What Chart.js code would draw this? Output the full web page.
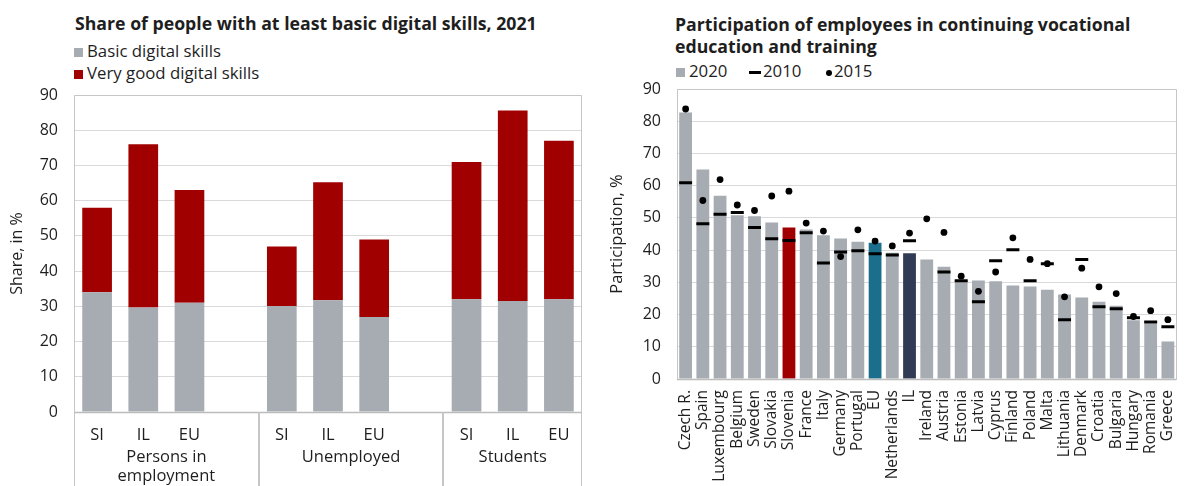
<!DOCTYPE html>
<html>
<head>
<meta charset="utf-8">
<title>Digital skills and continuing vocational training</title>
<script src="https://cdn.jsdelivr.net/npm/chart.js@4.4.1/dist/chart.umd.min.js"></script>
<style>
  html, body { margin: 0; padding: 0; background: #ffffff; }
  body { position: relative; width: 1186px; height: 486px; overflow: hidden;
         font-family: 'Open Sans', 'Noto Sans', sans-serif; color: #1e1e1e; }
  .title { position: absolute; font-weight: 700; font-size: 17.7px; line-height: 22px; white-space: nowrap; }
  .leg { position: absolute; font-size: 16.8px; line-height: 20px; white-space: nowrap; }
  .sw { position: absolute; }
  canvas { position: absolute; top: 0; }
</style>
</head>
<body>
  <div class="title" style="left:75px; top:11.5px;">Share of people with at least basic digital skills, 2021</div>
  <div class="sw" style="left:74px; top:48px; width:9px; height:9px; background:#a6acb2;"></div>
  <div class="leg" style="left:87px; top:41px;">Basic digital skills</div>
  <div class="sw" style="left:74px; top:70px; width:9px; height:9px; background:#a00000;"></div>
  <div class="leg" style="left:87px; top:63px;">Very good digital skills</div>

  <div class="title" style="left:675px; top:13px;">Participation of employees in continuing vocational<br>education and training</div>
  <div class="sw" style="left:676px; top:68px; width:9px; height:9px; background:#a6acb2;"></div>
  <div class="leg" style="left:689px; top:61px;">2020</div>
  <div class="sw" style="left:749px; top:71px; width:12px; height:3px; background:#000000;"></div>
  <div class="leg" style="left:763px; top:61px;">2010</div>
  <div class="sw" style="left:826px; top:70px; width:6px; height:6px; border-radius:50%; background:#000000;"></div>
  <div class="leg" style="left:834px; top:61px;">2015</div>

  <canvas id="skills" width="600" height="486" style="left:0;"></canvas>
  <canvas id="cvet" width="586" height="486" style="left:600px;"></canvas>

<script>
// ---- Digital skills, 2021 (share, %) ----
// Three groups of SI / IL / EU; an empty slot separates the groups.
const skillLabels = ['SI', 'IL', 'EU', '', 'SI', 'IL', 'EU', '', 'SI', 'IL', 'EU'];
const basicSkills = [34, 29.7, 31, null, 30, 31.7, 27, null, 32, 31.5, 32];
const veryGoodSkills = [24, 46.3, 32, null, 17, 33.5, 22, null, 39, 54.1, 45];
const skillGroups = [['Persons in', 'employment'], ['Unemployed'], ['Students']];

// ---- Participation of employees in CVET (%) ----
const countries = ['Czech R.', 'Spain', 'Luxembourg', 'Belgium', 'Sweden', 'Slovakia', 'Slovenia',
  'France', 'Italy', 'Germany', 'Portugal', 'EU', 'Netherlands', 'IL', 'Ireland', 'Austria',
  'Estonia', 'Latvia', 'Cyprus', 'Finland', 'Poland', 'Malta', 'Lithuania', 'Denmark',
  'Croatia', 'Bulgaria', 'Hungary', 'Romania', 'Greece'];
const cvet2020 = [82.7, 65.0, 56.9, 50.8, 50.5, 48.6, 47.0, 46.4, 44.6, 43.6, 42.6, 42.3, 39.2, 39.0,
  37.1, 34.8, 30.6, 30.6, 30.3, 29.0, 28.7, 27.7, 26.2, 25.3, 24.0, 22.7, 18.2, 17.2, 11.6];
const cvet2010 = [60.9, 48.2, 51.1, 51.7, 47.0, 43.5, 43.0, 45.4, 36.0, 39.4, 39.8, 38.9, 38.5, 42.9,
  null, 33.2, 30.5, 24.0, 36.7, 40.1, 30.5, 35.8, 18.4, 37.1, 22.4, 21.8, 19.0, 17.7, 16.2];
const cvet2015 = [83.8, 55.4, 61.9, 54.0, 52.3, 56.8, 58.3, 48.4, 45.9, 38.0, 46.3, 42.8, 41.3, 45.3,
  49.7, 45.5, 31.9, 27.2, 33.2, 43.8, 37.1, 35.8, 25.5, 34.4, 28.6, 26.5, 19.4, 21.2, 18.4];
const yTicks = { min: 0, max: 90, step: 10 };

// ---- styling ----
const GREY = '#a6acb2';
const RED = '#a00000';
const highlight = { 'Slovenia': '#a00000', 'EU': '#1b6f8c', 'IL': '#323b55' };
const GRID = '#d9d9d9';
const FRAME = '#c6c6c6';
const TEXT = '#1e1e1e';
const FONT = "'Open Sans', 'Noto Sans', sans-serif";

Chart.defaults.font.family = FONT;
Chart.defaults.color = TEXT;

// Pin the axis boxes to fixed sizes so the plot area sits where intended.
const fixWidth = (w) => (scale) => { scale.width = w; scale.paddingTop = 0; scale.paddingBottom = 0; };
const fixHeight = (h) => (scale) => { scale.height = h; scale.paddingLeft = 0; scale.paddingRight = 0; };

// Frame around the plot area plus the category axis line.
const framePlugin = {
  id: 'frame',
  afterDatasetsDraw(chart) {
    const { ctx, chartArea: a } = chart;
    const l = Math.round(a.left) + 0.5, r = Math.round(a.right) - 0.5;
    const t = Math.round(a.top) + 0.5, b = Math.round(a.bottom) + 0.5;
    ctx.save();
    ctx.strokeStyle = FRAME;
    ctx.lineWidth = 1;
    ctx.beginPath();
    ctx.moveTo(l, b); ctx.lineTo(l, t); ctx.lineTo(r, t); ctx.lineTo(r, b);
    ctx.stroke();
    ctx.lineWidth = 1.5;
    ctx.strokeStyle = '#bcbcbc';
    ctx.beginPath();
    ctx.moveTo(a.left, b); ctx.lineTo(a.right, b);
    ctx.stroke();
    ctx.restore();
  }
};

// Group separators and group captions under the SI / IL / EU ticks.
const groupAxisPlugin = {
  id: 'groupAxis',
  afterDraw(chart) {
    const { ctx, chartArea: a, scales: { x } } = chart;
    const half = (x.getPixelForValue(1) - x.getPixelForValue(0)) / 2;
    // Each group runs up to and including the empty slot that follows it.
    const spans = [];
    let start = 0;
    skillLabels.forEach((lab, i) => {
      if (lab === '' || i === skillLabels.length - 1) { spans.push([start, i]); start = i + 1; }
    });
    ctx.save();
    ctx.strokeStyle = FRAME;
    ctx.lineWidth = 1;
    const edges = new Set();
    spans.forEach(([s, e]) => {
      edges.add(Math.round(x.getPixelForValue(s) - half) + 0.5);
      edges.add(Math.round(x.getPixelForValue(e) + half) - 0.5);
    });
    ctx.beginPath();
    edges.forEach((px) => { ctx.moveTo(px, a.bottom); ctx.lineTo(px, chart.height); });
    ctx.stroke();
    ctx.fillStyle = TEXT;
    ctx.font = '16.5px ' + FONT;
    ctx.textAlign = 'center';
    ctx.textBaseline = 'alphabetic';
    spans.forEach(([s, e], g) => {
      const cx = (x.getPixelForValue(s) + x.getPixelForValue(e)) / 2;
      skillGroups[g].forEach((line, k) => ctx.fillText(line, cx, a.bottom + 50 + k * 19));
    });
    ctx.restore();
  }
};

new Chart(document.getElementById('skills'), {
  type: 'bar',
  data: {
    labels: skillLabels,
    datasets: [
      { label: 'Basic digital skills', data: basicSkills, backgroundColor: GREY, stack: 's' },
      { label: 'Very good digital skills', data: veryGoodSkills, backgroundColor: RED, stack: 's' }
    ]
  },
  options: {
    responsive: false,
    animation: false,
    devicePixelRatio: 1,
    layout: { padding: { top: 95, right: 18, bottom: 0, left: 0 } },
    plugins: { legend: { display: false }, tooltip: { enabled: false } },
    datasets: { bar: { barPercentage: 0.643, categoryPercentage: 1 } },
    scales: {
      x: {
        stacked: true,
        grid: { display: false },
        border: { display: false },
        ticks: { font: { size: 16.5 }, padding: 5, maxRotation: 0, autoSkip: false },
        afterFit: fixHeight(74)
      },
      y: {
        stacked: true,
        min: yTicks.min, max: yTicks.max,
        ticks: { stepSize: yTicks.step, font: { size: 16 }, padding: 16 },
        grid: { color: GRID, drawTicks: false },
        border: { display: false },
        title: { display: true, text: 'Share, in %', font: { size: 16 }, padding: { top: 8, bottom: 0 } },
        afterFit: fixWidth(74)
      }
    }
  },
  plugins: [framePlugin, groupAxisPlugin]
});

new Chart(document.getElementById('cvet'), {
  type: 'bar',
  data: {
    labels: countries,
    datasets: [
      {
        type: 'line', label: '2015', data: cvet2015, order: 0,
        showLine: false, pointStyle: 'circle', pointRadius: 3.4,
        pointBackgroundColor: '#000000', pointBorderColor: '#000000', pointBorderWidth: 0
      },
      {
        type: 'line', label: '2010', data: cvet2010, order: 1,
        showLine: false, pointStyle: 'line', pointRadius: 6.5,
        pointBorderColor: '#000000', pointBorderWidth: 3
      },
      {
        type: 'bar', label: '2020', data: cvet2020, order: 2,
        backgroundColor: (c) => highlight[countries[c.dataIndex]] || GREY,
        barPercentage: 0.743, categoryPercentage: 1
      }
    ]
  },
  options: {
    responsive: false,
    animation: false,
    devicePixelRatio: 1,
    layout: { padding: { top: 89, right: 1.5, bottom: 0, left: 0 } },
    plugins: { legend: { display: false }, tooltip: { enabled: false } },
    scales: {
      x: {
        grid: { display: false },
        border: { display: false },
        ticks: { font: { size: 15.5 }, padding: 3, minRotation: 90, maxRotation: 90, autoSkip: false },
        afterFit: fixHeight(107)
      },
      y: {
        min: yTicks.min, max: yTicks.max,
        ticks: { stepSize: yTicks.step, font: { size: 16 }, padding: 16 },
        grid: { color: GRID, drawTicks: false },
        border: { display: false },
        title: { display: true, text: 'Participation, %', font: { size: 16.5 }, padding: { top: 7, bottom: 0 } },
        afterFit: fixWidth(77)
      }
    }
  },
  plugins: [framePlugin]
});
</script>
</body>
</html>
